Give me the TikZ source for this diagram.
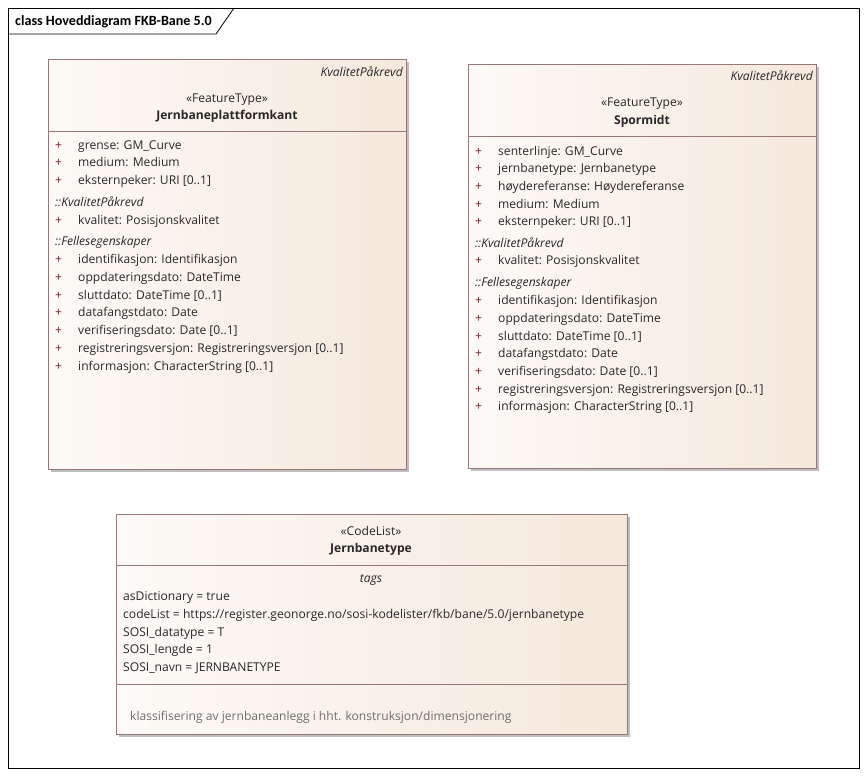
\documentclass[tikz,border=0pt]{standalone}
\usepackage{fontspec}
\setmainfont{Open Sans}
\newfontfamily\titlefont{Carlito}
\usetikzlibrary{shadows}
\definecolor{bordercol}{RGB}{150,120,120}
\definecolor{fillL}{RGB}{253,250,247}
\definecolor{fillR}{RGB}{245,232,220}
\definecolor{txt}{RGB}{40,40,40}
\definecolor{pluscol}{RGB}{115,30,45}
\definecolor{notecol}{RGB}{110,110,110}
\newcommand\bxfont{\fontsize{12.1}{14}\selectfont}
\tikzset{
  boxshape/.style={draw=bordercol, line width=0.9pt, left color=fillL, right color=fillR, rectangle, inner sep=0pt,
    drop shadow={shadow xshift=3pt, shadow yshift=-3pt, fill=black!25, opacity=1}},
  sepline/.style={draw=bordercol, line width=0.9pt},
  attr/.style={anchor=base west, inner sep=0pt, text=txt, font=\bxfont},
  plus/.style={anchor=base west, inner sep=0pt, text=pluscol, font=\bxfont},
  sect/.style={anchor=base west, inner sep=0pt, text=txt, font=\bxfont\itshape},
  ctr/.style={anchor=base, inner sep=0pt, text=txt, font=\bxfont},
  ctrb/.style={anchor=base, inner sep=0pt, text=txt, font=\bxfont\bfseries},
  tagr/.style={anchor=base east, inner sep=0pt, text=txt, font=\bxfont\itshape},
  note/.style={anchor=base west, inner sep=0pt, text=notecol, font=\bxfont},
}
\begin{document}
\begin{tikzpicture}[x=1pt,y=-1pt]
\useasboundingbox (0,0) rectangle (867,776);
\fill[white] (0,0) rectangle (867,776);
% frame
\draw[black, line width=0.8pt] (8,8) rectangle (859,768);
\draw[black, line width=0.8pt] (8,34) -- (216,34) -- (234,8);
\node[anchor=base west, inner sep=0pt, font=\titlefont\bfseries\fontsize{14.1}{16}\selectfont] (title) at (15,26) {class Hoveddiagram FKB-Bane 5.0};

% Box 1
\node[boxshape, anchor=north west, minimum width=358pt, minimum height=410pt] (b1) at (48,59) {};
\draw[sepline] (48,131) -- (406,131);
\node[tagr] (b1tag) at (403,77) {KvalitetPåkrevd};
\node[ctr] (b1st) at (227,102) {«FeatureType»};
\node[ctrb] (b1nm) at (227,119) {Jernbaneplattformkant};
\foreach \y/\t in {149/{grense: GM\_Curve},166/{medium: Medium},184/{eksternpeker: URI [0..1]},224/{kvalitet: Posisjonskvalitet},263/{identifikasjon: Identifikasjon},281/{oppdateringsdato: DateTime},299/{sluttdato: DateTime [0..1]},316/{datafangstdato: Date},334/{verifiseringsdato: Date [0..1]},352/{registreringsversjon: Registreringsversjon [0..1]},370/{informasjon: CharacterString [0..1]}}{
  \node[plus] at (55,\y) {+};
  \node[attr] at (78,\y) {\t};
}
\node[sect] (b1s1) at (55,206) {::KvalitetPåkrevd};
\node[sect] (b1s2) at (55,245) {::Fellesegenskaper};

% Box 2
\node[boxshape, anchor=north west, minimum width=348pt, minimum height=404pt] (b2) at (468,64) {};
\draw[sepline] (468,136) -- (816,136);
\node[tagr] (b2tag) at (813,81) {KvalitetPåkrevd};
\node[ctr] (b2st) at (642,106) {«FeatureType»};
\node[ctrb] (b2nm) at (642,124) {Spormidt};
\foreach \y/\t in {155/{senterlinje: GM\_Curve},172/{jernbanetype: Jernbanetype},190/{høydereferanse: Høydereferanse},208/{medium: Medium},225/{eksternpeker: URI [0..1]},264/{kvalitet: Posisjonskvalitet},304/{identifikasjon: Identifikasjon},322/{oppdateringsdato: DateTime},340/{sluttdato: DateTime [0..1]},357/{datafangstdato: Date},375/{verifiseringsdato: Date [0..1]},393/{registreringsversjon: Registreringsversjon [0..1]},410/{informasjon: CharacterString [0..1]}}{
  \node[plus] at (475,\y) {+};
  \node[attr] at (498,\y) {\t};
}
\node[sect] (b2s1) at (475,247) {::KvalitetPåkrevd};
\node[sect] (b2s2) at (475,286) {::Fellesegenskaper};

% Box 3
\node[boxshape, anchor=north west, minimum width=511pt, minimum height=220pt] (b3) at (116,514) {};
\draw[sepline] (116,565) -- (627,565);
\draw[sepline] (116,684) -- (627,684);
\node[ctr] (b3st) at (371,535) {«CodeList»};
\node[ctrb] (b3nm) at (371,552) {Jernbanetype};
\node[ctr, font=\bxfont\itshape] (b3tags) at (371,582) {tags};
\foreach \y/\t in {600/{asDictionary = true},618/{codeList = https://register.geonorge.no/sosi-kodelister/fkb/bane/5.0/jernbanetype},636/{SOSI\_datatype = T},653/{SOSI\_lengde = 1},671/{SOSI\_navn = JERNBANETYPE}}{
  \node[attr] at (123,\y) {\t};
}
\node[note] (b3note) at (130,720) {klassifisering av jernbaneanlegg i hht. konstruksjon/dimensjonering};
\end{tikzpicture}
\end{document}
